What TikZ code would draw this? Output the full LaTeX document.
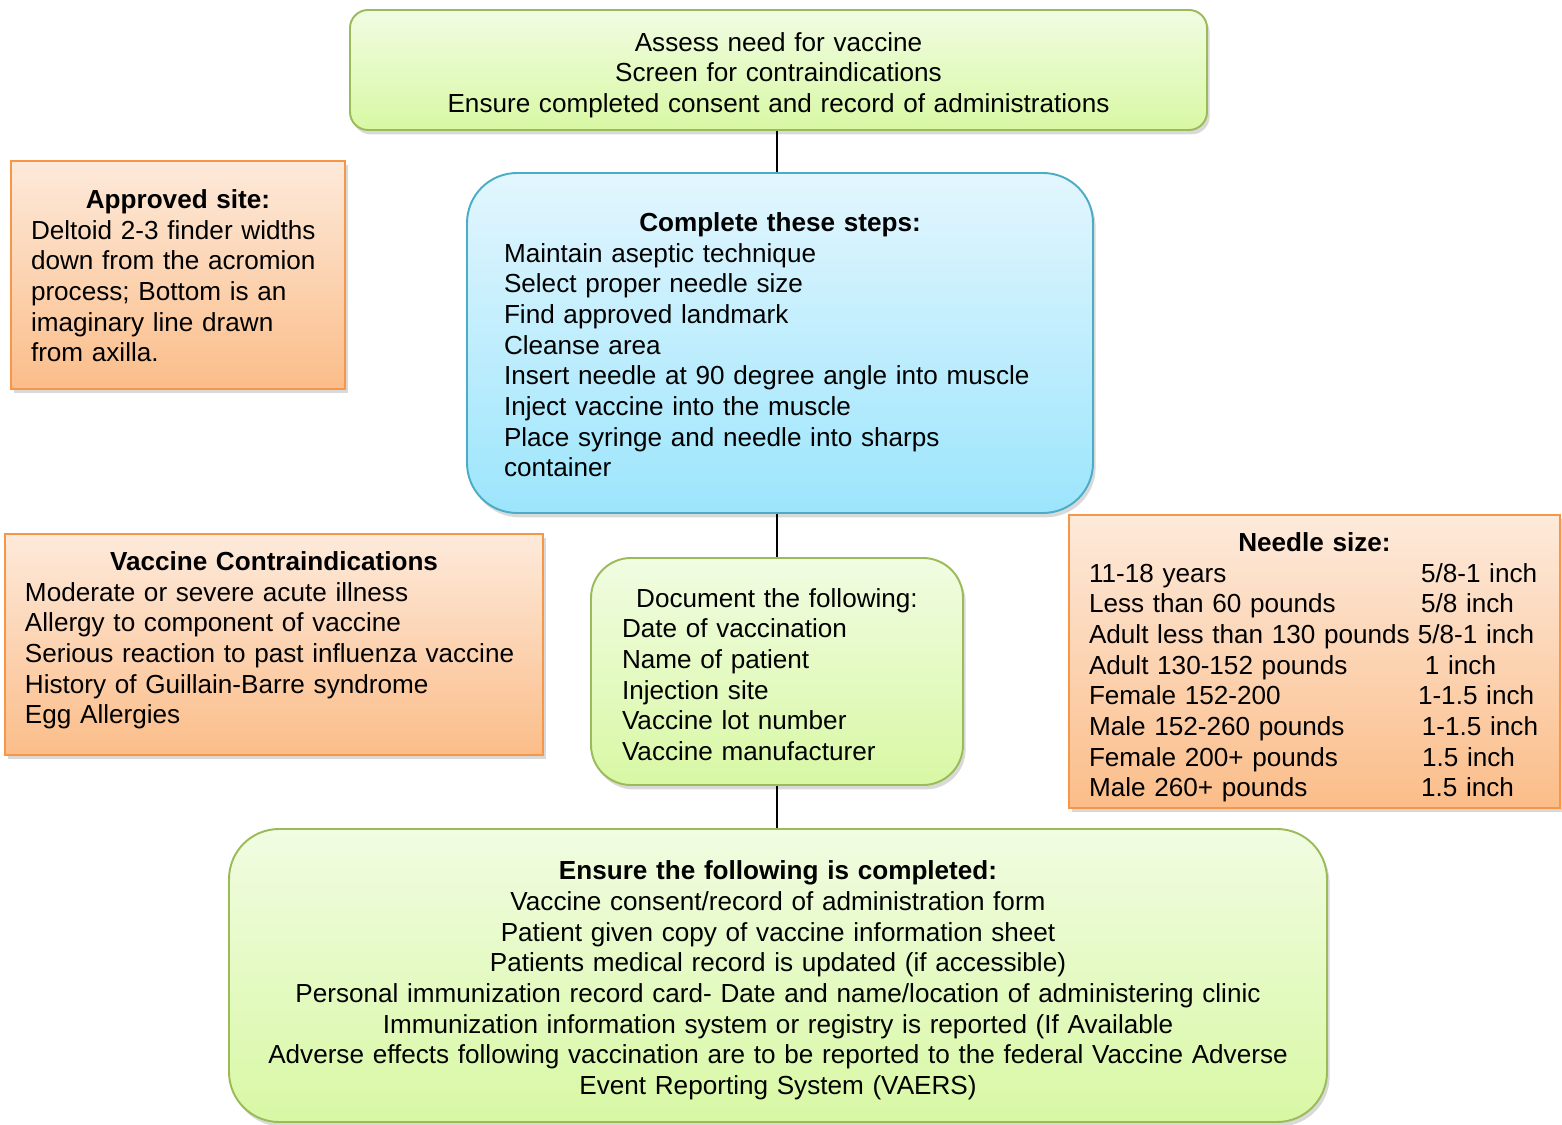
\documentclass[tikz,border=0pt]{standalone}
\usepackage{fontspec}
\setmainfont{Liberation Sans}
\usetikzlibrary{shadows}

\definecolor{grnline}{HTML}{9BBB59}
\definecolor{grntop}{HTML}{F1FCE2}
\definecolor{grnbot}{HTML}{D8F8A4}
\definecolor{bluline}{HTML}{4BACC6}
\definecolor{blutop}{HTML}{E3F6FE}
\definecolor{blubot}{HTML}{9CE5FC}
\definecolor{orgline}{HTML}{F79646}
\definecolor{orgtop}{HTML}{FDEADB}
\definecolor{orgbot}{HTML}{FBBD89}

% one row of the needle table
\newcommand{\nrow}[3]{\makebox[#1][l]{#2}\mbox{#3}}
% invisible struts to nudge a text block down / up
\newcommand{\lift}[1]{\rule{0pt}{#1}}
\newcommand{\sink}[1]{\rule[-#1]{0pt}{0pt}}

\begin{document}
\begin{tikzpicture}
% define node styles
\tikzstyle{every node} = [font=\fontsize{14.86}{17.45}\selectfont, inner ysep=0pt]
\tikzstyle{box}        = [draw, line width=1.1pt, drop shadow={opacity=0.3, shadow xshift=1.5pt, shadow yshift=-2.5pt}]
\tikzstyle{greenbox}   = [box, draw=grnline, top color=grntop, bottom color=grnbot]
\tikzstyle{bluebox}    = [box, draw=bluline, top color=blutop, bottom color=blubot]
\tikzstyle{orangebox}  = [box, draw=orgline, top color=orgtop, bottom color=orgbot, inner xsep=0.4cm]
\tikzstyle{link}       = [draw, black, line width=0.8pt]

\useasboundingbox (0,0) rectangle (31.24,-22.5);

% main column
\node [greenbox, rounded corners=0.36cm, inner xsep=0.4cm, text width=16.34cm, align=center,
       minimum height=2.4cm] (assess) at (15.57,-1.40)
  {\lift{16.4pt}Assess need for vaccine\\ Screen for contraindications\\ Ensure completed consent and record of administrations};

\node [bluebox, rounded corners=1cm, inner xsep=0.74cm, text width=11.04cm, minimum height=6.8cm]
  (steps) at (15.60,-6.86)
  {{\centering\lift{12.9pt}\textbf{Complete these steps:}\par}\raggedright
   Maintain aseptic technique\\ Select proper needle size\\ Find approved landmark\\ Cleanse area\\
   Insert needle at 90 degree angle into muscle\\ Inject vaccine into the muscle\\
   Place syringe and needle into sharps\\ container};

\node [greenbox, rounded corners=0.8cm, inner xsep=0.62cm, text width=6.2cm, minimum height=4.54cm]
  (document) at (15.54,-13.43)
  {{\centering\lift{14.1pt}Document the following:\par}\raggedright
   Date of vaccination\\ Name of patient\\ Injection site\\ Vaccine lot number\\ Vaccine manufacturer};

\node [greenbox, rounded corners=1cm, inner xsep=0.4cm, text width=21.16cm, align=center,
       minimum height=5.86cm] (ensure) at (15.56,-19.51)
  {\lift{16.5pt}\textbf{Ensure the following is completed:}\\
   Vaccine consent/record of administration form\\
   Patient given copy of vaccine information sheet\\
   Patients medical record is updated (if accessible)\\
   Personal immunization record card- Date and name/location of administering clinic\\
   Immunization information system or registry is reported (If Available\\
   Adverse effects following vaccination are to be reported to the federal Vaccine Adverse\\
   Event Reporting System (VAERS)};

% side notes
\node [orangebox, text width=5.88cm, minimum height=4.56cm] (approved) at (3.56,-5.50)
  {{\centering\lift{11.8pt}\textbf{Approved site:}\par}\raggedright
   Deltoid 2-3 finder widths\\ down from the acromion\\ process; Bottom is an\\
   imaginary line drawn\\ from axilla.};

\node [orangebox, text width=9.96cm, minimum height=4.42cm] (contra) at (5.48,-12.89)
  {{\centering\textbf{Vaccine Contraindications}\par}\raggedright
   Moderate or severe acute illness\\ Allergy to component of vaccine\\
   Serious reaction to past influenza vaccine\\ History of Guillain-Barre syndrome\\ Egg Allergies\sink{7.7pt}};

\node [orangebox, text width=9.02cm, minimum height=5.86cm] (needle) at (26.29,-13.23)
  {{\centering\lift{17.5pt}\textbf{Needle size:}\par}\raggedright
   \nrow{6.64cm}{11-18 years}{5/8-1 inch}\\
   \nrow{6.64cm}{Less than 60 pounds}{5/8 inch}\\
   \nrow{6.58cm}{Adult less than 130 pounds}{5/8-1 inch}\\
   \nrow{6.72cm}{Adult 130-152 pounds}{1 inch}\\
   \nrow{6.58cm}{Female 152-200}{1-1.5 inch}\\
   \nrow{6.66cm}{Male 152-260 pounds}{1-1.5 inch}\\
   \nrow{6.66cm}{Female 200+ pounds}{1.5 inch}\\
   \nrow{6.64cm}{Male 260+ pounds}{1.5 inch}};

% edges
\coordinate (axis) at (15.54,0);
\foreach \from/\to in {assess/steps, steps/document, document/ensure}
    \draw [link] (\from.south -| axis) -- (\to.north -| axis);

\end{tikzpicture}
\end{document}
